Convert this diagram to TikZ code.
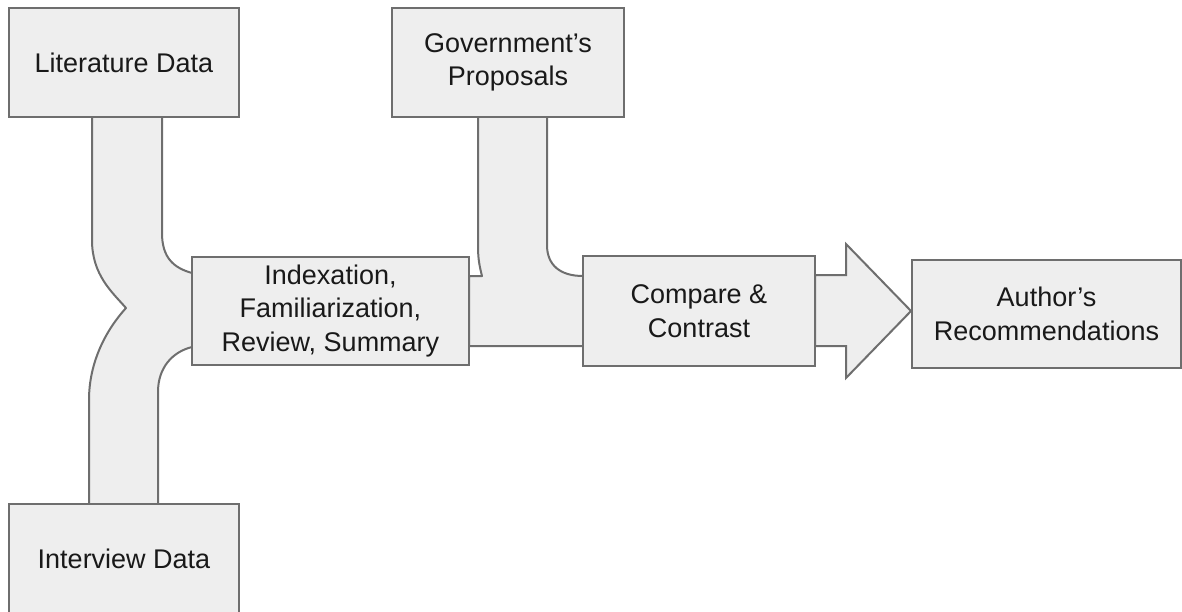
\documentclass[tikz,border=0pt]{standalone}
\usepackage{fontspec}
\setmainfont{Liberation Sans}
\usetikzlibrary{backgrounds}
\definecolor{boxfill}{HTML}{EEEEEE}
\definecolor{boxline}{HTML}{6E6E6E}
\tikzset{
  box/.style={draw=boxline, fill=boxfill, line width=2pt, align=center, inner sep=0pt,
    font=\fontsize{27}{33.5}\selectfont, text=black!90},
  pipe/.style={draw=boxline, fill=boxfill, line width=2pt, line join=round}
}
\begin{document}
\begin{tikzpicture}[x=1pt,y=-1pt]
\useasboundingbox (0,0) rectangle (1182,612);
\node[box, minimum width=230pt, minimum height=109pt] (lit) at (124,62.5) {Literature Data};
\node[box, minimum width=230pt, minimum height=110pt] (int) at (124,559) {Interview Data};
\node[box, minimum width=277pt, minimum height=108pt] (idx) at (330.5,311) {Indexation,\\Familiarization,\\Review, Summary};
\node[box, minimum width=232pt, minimum height=109pt] (gov) at (508,62.5) {Government’s\\Proposals};
\node[box, minimum width=232pt, minimum height=110pt] (cmp) at (699,311) {Compare \&\\Contrast};
\node[box, minimum width=269pt, minimum height=108pt] (aut) at (1046.5,314) {Author’s\\Recommendations};
\begin{pgfonlayer}{background}
  % merging pipe: literature + interview into indexation
  \draw[pipe] (92,117) -- (162,117) -- (162,233)
    .. controls (162,258) and (174,268) .. (192,273) -- (192,347)
    .. controls (172,352) and (158,368) .. (158,392) -- (158,504) -- (89,504) -- (89,400)
    .. controls (89,362) and (106,330) .. (126,308)
    .. controls (112,292) and (92,275) .. (92,240) -- cycle;
  % government + indexation into compare
  \draw[pipe] (478,117) -- (547,117) -- (547,245)
    .. controls (547,265) and (560,276) .. (583,276) -- (583,346) -- (469,346) -- (469,276) -- (482,276)
    .. controls (480,268) and (478,260) .. (478,247) -- cycle;
  % block arrow compare -> author
  \draw[pipe, line join=miter] (815,275) -- (846,275) -- (846,244) -- (911,311)
    -- (846,378) -- (846,346) -- (815,346) -- cycle;
\end{pgfonlayer}
\end{tikzpicture}
\end{document}
